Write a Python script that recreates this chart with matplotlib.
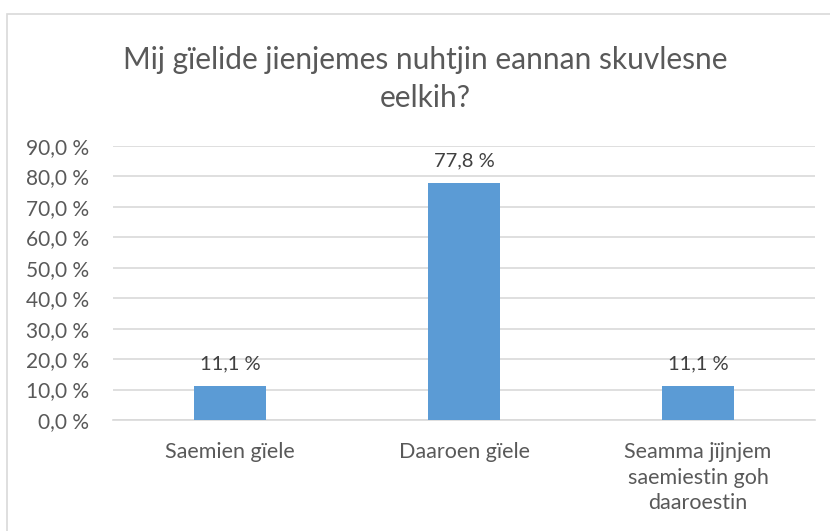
import matplotlib.pyplot as plt
from matplotlib.patches import Rectangle

# data
categories = ['Saemien gïele', 'Daaroen gïele', 'Seamma jïjnjem\nsaemiestin goh\ndaaroestin']
values = [11.1, 77.8, 11.1]
yticks = [0, 10, 20, 30, 40, 50, 60, 70, 80, 90]
title = 'Mij gïelide jienjemes nuhtjin eannan skuvlesne\neelkih?'

text_col = '#595959'
plt.rcParams['font.family'] = ['Lato', 'DejaVu Sans']

fig = plt.figure(figsize=(8.3, 5.31), dpi=100)

# chart border (extends past right/bottom edge)
fig.patches.append(Rectangle((7 / 830, -0.1), 1.2, 1 - 14 / 531 + 0.1,
                             transform=fig.transFigure, fill=False,
                             edgecolor='#D9D9D9', linewidth=1.2))

ax = fig.add_axes([113 / 830, 1 - 420 / 531, 702 / 830, 274 / 531])
x = range(len(categories))
bars = ax.bar(x, values, width=0.31, color='#5B9BD5', zorder=3)

ax.set_xlim(-0.5, 2.5)
ax.set_ylim(0, 90)
ax.set_yticks(yticks)
ax.set_yticklabels([f'{v:.1f} %'.replace('.', ',') for v in yticks])
ax.set_xticks(list(x))
ax.set_xticklabels(categories, linespacing=1.35, va='top', fontsize=15.5)

ax.grid(axis='y', color='#D9D9D9', linewidth=1.2, zorder=0)
for s in ['top', 'right', 'left']:
    ax.spines[s].set_visible(False)
ax.spines['bottom'].set_color('#D9D9D9')
ax.spines['bottom'].set_linewidth(1.2)
ax.tick_params(axis='both', length=0, colors=text_col)
ax.tick_params(axis='y', pad=17, labelsize=15)
ax.tick_params(axis='x', pad=16)

for b, v in zip(bars, values):
    ax.annotate(f'{v:.1f} %'.replace('.', ','),
                (b.get_x() + b.get_width() / 2, v),
                xytext=(0, 10), textcoords='offset points',
                ha='center', va='bottom', fontsize=14.5, color='#404040')

fig.text(0.512, 1 - 79 / 531, title, ha='center', va='center',
         fontsize=21.5, color=text_col, linespacing=1.45)

fig.savefig('out.png', dpi=100)
